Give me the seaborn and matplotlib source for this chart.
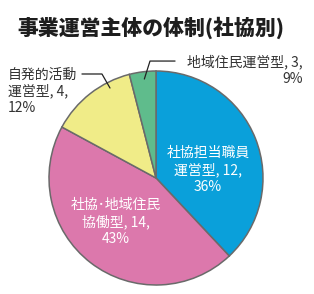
import matplotlib
matplotlib.use("Agg")
import matplotlib.pyplot as plt
import seaborn as sns

title = "事業運営主体の体制(社協別)"
categories = ["社協担当職員\n運営型", "社協･地域住民\n協働型", "自発的活動\n運営型", "地域住民運営型"]
values = [12, 14, 4, 3]
percents = [36, 43, 12, 9]
# slice sizes as drawn in the reference picture (angles)
drawn_shares = [38.0, 44.9, 13.1, 4.0]
colors = ["#0AA0DA", "#DC78AC", "#F0EC88", "#5FBC8C"]

sns.set_theme(style="white")
plt.rcParams['font.family'] = ['Noto Sans CJK JP', 'DejaVu Sans']

fig = plt.figure(figsize=(3.14, 2.94), dpi=100)
fig.patch.set_facecolor("white")
R = 107
cx, cy = 156, 178
ax = fig.add_axes([(cx - R) / 314, (294 - cy - R) / 294, 2 * R / 314, 2 * R / 294])
ax.pie(drawn_shares, colors=colors, startangle=90, counterclock=False,
       wedgeprops=dict(edgecolor="#6A6A6A", linewidth=1.1))
ax.set_xlim(-1, 1)
ax.set_ylim(-1, 1)
ax.set_aspect("equal")
ax.axis("off")

labels = [f"{c}, {v},\n{p}%" for c, v, p in zip(categories, values, percents)]

ax.text(0.486, 0.075, labels[0], ha="center", va="center", color="white",
        fontsize=10, linespacing=1.2)
ax.text(-0.374, -0.411, labels[1], ha="center", va="center", color="white",
        fontsize=10, linespacing=1.2)
ax.text(-1.383, 0.813, labels[2], ha="left", va="center", color="#333333",
        fontsize=10, linespacing=1.2, clip_on=False)
ax.text(1.374, 1.009, labels[3], ha="right", va="center", color="#333333",
        fontsize=10, linespacing=1.2, multialignment="right", clip_on=False)

ax.plot([-0.692, -0.505, -0.430], [0.972, 0.972, 0.841], color="#222222",
        lw=0.9, clip_on=False)
ax.plot([0.178, -0.056, -0.109], [1.093, 1.093, 0.925], color="#222222",
        lw=0.9, clip_on=False)

fig.text(151 / 314, 1 - 28 / 294, title, ha="center", va="center",
         fontsize=15, fontweight="heavy", color="#1E1E1E")

fig.savefig("out.png", dpi=100, facecolor="white")
